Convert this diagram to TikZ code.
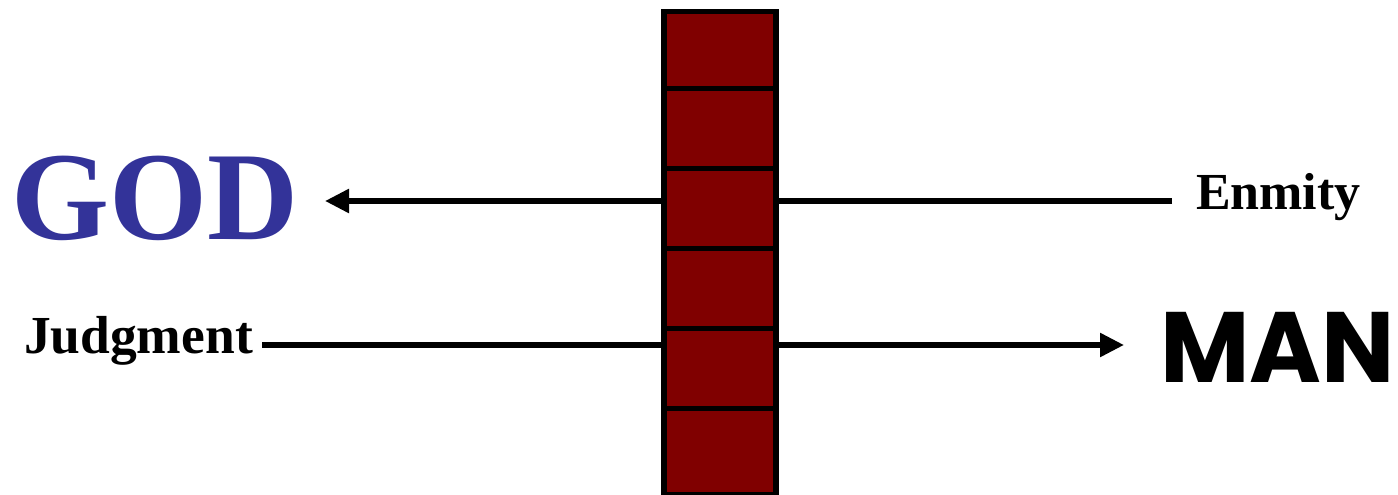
\documentclass[tikz,border=0pt]{standalone}
\usepackage{fontspec}
\setmainfont{Liberation Serif}
\newfontfamily\manfont{Poppins}
\usetikzlibrary{arrows.meta}
\definecolor{godblue}{RGB}{51,51,153}
\definecolor{brick}{RGB}{128,0,0}
\tikzset{
  conn/.style={line width=5.5pt, draw=black},
  arr/.style={conn, -{Triangle[length=24pt,width=23pt]}},
  brickwall/.style={line width=5.5pt, draw=black, fill=brick},
  lbl/.style={inner sep=0pt, outer sep=0pt, anchor=base west, font=\bfseries\fontsize{52}{52}\selectfont},
}
\begin{document}
\begin{tikzpicture}[x=1pt,y=-1pt]
\useasboundingbox (0,0) rectangle (1398,495);
% labels
\node[inner sep=0pt, anchor=base west, text=godblue, font=\bfseries\fontsize{126}{126}\selectfont] (god) at (11,239) {GOD};
\node[lbl, font=\bfseries\fontsize{53.5}{53.5}\selectfont] (judg) at (24,353) {Judgment};
\node[lbl] (enm) at (1196,209) {Enmity};
\node[inner sep=0pt, anchor=base west, font=\manfont\bfseries\fontsize{100}{100}\selectfont] (man) at (1160,382) {\scalebox{0.975}[1]{MAN}};
% connector end points
\coordinate (eEnd) at (1172,201);
\coordinate (gTip) at (325,201);
\coordinate (jEnd) at (262,345);
\coordinate (mTip) at (1124,345);
\draw[arr] (eEnd) -- (gTip);
\draw[arr] (jEnd) -- (mTip);
% wall
\node[brickwall, minimum width=112pt, minimum height=483pt, inner sep=0pt, anchor=north west] (wall) at (661,9) {};
\foreach \yy in {88.7,168.7,248.7,328.7,408.7}{
  \draw[line width=5.5pt] (wall.west |- 0,\yy) -- (wall.east |- 0,\yy);
}
\end{tikzpicture}
\end{document}
